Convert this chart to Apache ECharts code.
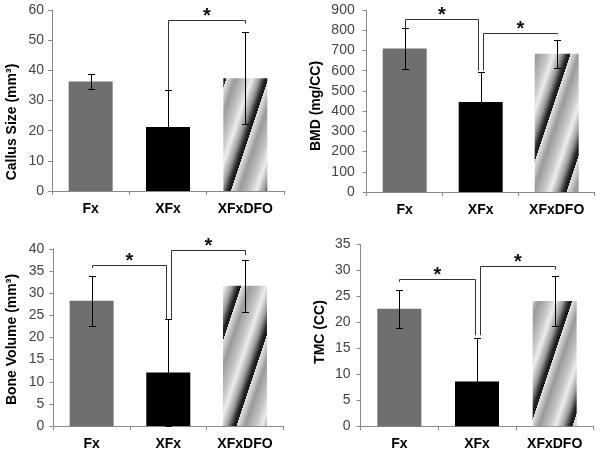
<!DOCTYPE html>
<html><head><meta charset="utf-8">
<script src="https://cdn.jsdelivr.net/npm/echarts@6/dist/echarts.min.js"></script>
<style>html,body{margin:0;padding:0;background:#fff}#c{width:602px;height:454px}</style>
</head><body><div id="c"></div>
<script>
// ---------------- data ----------------
const categories = ['Fx', 'XFx', 'XFxDFO'];

const callusMean = [36.3, 21.2, 37.4];
const callusErr  = [2.35, 12.3, 15.2];
const bmdMean    = [709, 445, 684];
const bmdErr     = [102, 150, 70];
const boneVolMean = [28.3, 12.1, 31.7];
const boneVolErr  = [5.7, 12.1, 5.9];
const tmcMean    = [22.6, 8.6, 24.1];
const tmcErr     = [3.7, 8.4, 4.8];

// significance brackets: [fromCategory, toCategory, bracketLevel, leftLegEnd, rightLegEnd]
const callusSig  = [[1, 2, 56.7, 33.5, 55.5]];
const bmdSig     = [[0, 1, 857, 807, 600], [1, 2, 788, 600, 779]];
const boneVolSig = [[0, 1, 36.3, 35.7, 24.2], [1, 2, 39.7, 24.2, 38.6]];
const tmcSig     = [[0, 1, 28.4, 27.8, 17.5], [1, 2, 30.9, 17.5, 30.1]];

// y axes: [min, max, interval]
const callusAxis  = [0, 60, 10];
const bmdAxis     = [0, 900, 100];
const boneVolAxis = [0, 40, 5];
const tmcAxis     = [0, 35, 5];

const yTitles = ['Callus Size (mm\u00B3)', 'BMD (mg/CC)', 'Bone Volume (mm\u00B3)', 'TMC (CC)'];

// ---------------- layout / style ----------------
const FONT = '"Liberation Sans", Arial, sans-serif';
const panels = [
  { mean: callusMean, err: callusErr, sig: callusSig, axis: callusAxis,
    grid: { left: 52, top: 10, width: 232, height: 181 }, labelMargin: 8, title: [12, 122] },
  { mean: bmdMean, err: bmdErr, sig: bmdSig, axis: bmdAxis,
    grid: { left: 366.7, top: 10, width: 228, height: 182 }, labelMargin: 12, title: [316, 106] },
  { mean: boneVolMean, err: boneVolErr, sig: boneVolSig, axis: boneVolAxis,
    grid: { left: 53.3, top: 249, width: 230, height: 177 }, labelMargin: 9, title: [12, 339.5] },
  { mean: tmcMean, err: tmcErr, sig: tmcSig, axis: tmcAxis,
    grid: { left: 360.5, top: 244.3, width: 233, height: 182 }, labelMargin: 10, title: [320, 332] }
];

function makePattern() {
  const P = 42, K = 3, H = P * K;
  const c = document.createElement('canvas');
  c.width = P; c.height = H;
  const ctx = c.getContext('2d');
  const img = ctx.createImageData(P, H);
  const stops = [[0, 0xe4], [0.2, 0x9a], [0.45, 0xc6], [0.6, 0xee], [0.78, 0x9c], [0.92, 0x24], [1, 0x16]];
  for (let y = 0; y < H; y++) {
    for (let x = 0; x < P; x++) {
      let u = ((x + y / K) % P) / P;
      let v = stops[stops.length - 1][1];
      for (let s = 0; s < stops.length - 1; s++) {
        if (u >= stops[s][0] && u <= stops[s + 1][0]) {
          const t = (u - stops[s][0]) / (stops[s + 1][0] - stops[s][0]);
          v = stops[s][1] + t * (stops[s + 1][1] - stops[s][1]);
          break;
        }
      }
      const i = (y * P + x) * 4;
      img.data[i] = img.data[i + 1] = img.data[i + 2] = Math.round(v);
      img.data[i + 3] = 255;
    }
  }
  ctx.putImageData(img, 0, 0);
  return { image: c, repeat: 'repeat' };
}
const pattern = makePattern();
const barColors = ['#6f6f6f', '#000000', pattern];

function errRender(params, api) {
  const x = api.value(0);
  const lo = api.coord([x, api.value(1)]);
  const hi = api.coord([x, api.value(2)]);
  const cx = Math.round(lo[0]) + 0.5;
  const w = 3.5;
  const yh = Math.round(hi[1]) + 0.5, yl = Math.round(lo[1]) + 0.5;
  const style = { stroke: '#000', lineWidth: 1 };
  return { type: 'group', children: [
    { type: 'line', shape: { x1: cx, y1: yl, x2: cx, y2: yh }, style },
    { type: 'line', shape: { x1: cx - w, y1: yh, x2: cx + w, y2: yh }, style },
    { type: 'line', shape: { x1: cx - w, y1: yl, x2: cx + w, y2: yl }, style }
  ]};
}

function makeBracketRender(sig) {
  const shared = (cat) => sig.filter(s => s[0] === cat || s[1] === cat).length > 1;
  return function (params, api) {
    const from = api.value(0), to = api.value(1);
    const dl = shared(from) ? 2.5 : 0;
    const dr = shared(to) ? -2.5 : 0;
    const xl = Math.round(api.coord([from, 0])[0] + dl) + 0.5;
    const xr = Math.round(api.coord([to, 0])[0] + dr) + 0.5;
    const yt = Math.round(api.coord([from, api.value(2)])[1]) + 0.5;
    const yl = api.coord([from, api.value(3)])[1];
    const yr = api.coord([to, api.value(4)])[1];
    return { type: 'group', children: [
      { type: 'polyline', shape: { points: [[xl, yl], [xl, yt], [xr, yt], [xr, yr]] },
        style: { stroke: '#333', lineWidth: 1, fill: null } },
      { type: 'text', style: { text: '*', x: (xl + xr) / 2, y: yt - 4, align: 'center', verticalAlign: 'middle',
        font: 'bold 20px ' + FONT, fill: '#111' } }
    ]};
  };
}

const grid = [], xAxis = [], yAxis = [], series = [], graphic = [];
panels.forEach((p, i) => {
  grid.push(Object.assign({ containLabel: false }, p.grid));
  xAxis.push({
    type: 'category', gridIndex: i, data: categories,
    axisLine: { lineStyle: { color: '#8a8a8a', width: 1 } },
    axisTick: { show: true, length: 4, lineStyle: { color: '#8a8a8a' } },
    axisLabel: { fontFamily: FONT, fontWeight: 'bold', fontSize: 14, color: '#000', margin: 11 },
    splitLine: { show: false }
  });
  yAxis.push({
    type: 'value', gridIndex: i, min: p.axis[0], max: p.axis[1], interval: p.axis[2],
    axisLine: { show: true, lineStyle: { color: '#8a8a8a', width: 1 } },
    axisTick: { show: true, length: 4, lineStyle: { color: '#8a8a8a' } },
    axisLabel: { fontFamily: FONT, fontSize: 14, color: '#444', margin: p.labelMargin },
    splitLine: { show: false }
  });
  series.push({
    type: 'bar', xAxisIndex: i, yAxisIndex: i, barWidth: 44,
    data: p.mean.map((v, j) => ({ value: v, itemStyle: { color: barColors[j] } }))
  });
  series.push({
    type: 'custom', xAxisIndex: i, yAxisIndex: i, renderItem: errRender,
    encode: { x: 0, y: [1, 2] },
    data: p.mean.map((v, j) => [j, v - p.err[j], v + p.err[j]]), z: 3
  });
  series.push({
    type: 'custom', xAxisIndex: i, yAxisIndex: i, renderItem: makeBracketRender(p.sig),
    encode: { x: [0, 1], y: [2, 3, 4] },
    data: p.sig, z: 4
  });
  graphic.push({
    type: 'text', x: p.title[0], y: p.title[1], rotation: Math.PI / 2,
    style: { text: yTitles[i], font: 'bold 14px ' + FONT, fill: '#000', align: 'center', verticalAlign: 'middle' }
  });
});

const chart = echarts.init(document.getElementById('c'), null, { renderer: 'canvas' });
chart.setOption({ animation: false, backgroundColor: '#fff', grid, xAxis, yAxis, series, graphic });
</script></body></html>
